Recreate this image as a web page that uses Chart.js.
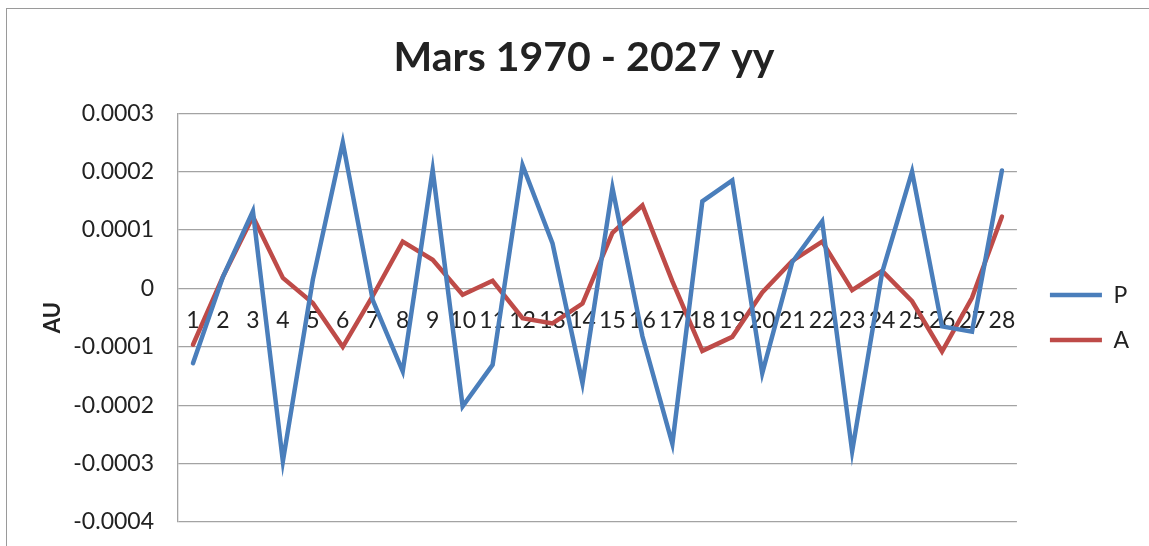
<!DOCTYPE html>
<html>
<head>
<meta charset="utf-8">
<script src="https://cdn.jsdelivr.net/npm/chart.js@4.4.1/dist/chart.umd.min.js"></script>
<style>
    body { margin: 0; background: #fff; overflow: hidden; }
    #wrap { position: relative; width: 1149px; height: 546px; }
    #frame { position: absolute; left: 6px; top: 8px; width: 1200px; height: 600px; border: 1.5px solid #9a9a9a; }
    #chart { position: absolute; left: 0; top: 0; }
</style>
</head>
<body>
<div id="wrap">
    <div id="frame"></div>
    <canvas id="chart" width="1149" height="546"></canvas>
</div>
<script>
// x categories 1..28 (AU)
var categories = ['1', '2', '3', '4', '5', '6', '7', '8', '9', '10', '11', '12', '13', '14',
    '15', '16', '17', '18', '19', '20', '21', '22', '23', '24', '25', '26', '27', '28'];

var seriesP = [-0.000128, 0.00002, 0.000132, -0.000296, 0.000015, 0.000250, -0.00002, -0.000142,
    0.000203, -0.000202, -0.000131, 0.000211, 0.000077, -0.000162, 0.000172, -0.000082,
    -0.000266, 0.000149, 0.000185, -0.000145, 0.000045, 0.000115, -0.000279, 0.000027,
    0.000200, -0.000065, -0.000074, 0.000202];

var seriesA = [-0.0000965, 0.00002, 0.000123, 0.000018, -0.000025, -0.000100, -0.000013, 0.000080,
    0.000049, -0.000011, 0.000013, -0.000051, -0.000060, -0.000026, 0.000095, 0.000142,
    0.000012, -0.000107, -0.000083, -0.000007, 0.000047, 0.000080, -0.000003, 0.000030,
    -0.000022, -0.000108, -0.000016, 0.000123];

var yMin = -0.0004;
var yMax = 0.0003;
var yStep = 0.0001;

var fontFamily = "Lato, 'Open Sans', sans-serif";
var gridColor = '#a3a3a3';
var textColor = '#222222';

function makeLine(label, data, color) {
    return {
        label: label,
        data: data,
        borderColor: color,
        backgroundColor: color,
        borderWidth: 4.5,
        borderCapStyle: 'round',
        pointRadius: 0,
        pointHoverRadius: 0,
        pointStyle: 'line',
        tension: 0,
        fill: false
    };
}

// nudge the legend a bit to the right, away from the plot
var legendNudge = {
    id: 'legendNudge',
    afterLayout: function (chart) {
        chart.legend.left += 11;
        chart.legend.right += 11;
    }
};

var ctx = document.getElementById('chart').getContext('2d');

new Chart(ctx, {
    type: 'line',
    data: {
        labels: categories,
        datasets: [
            makeLine('P', seriesP, '#4a7ebb'),
            makeLine('A', seriesA, '#be4b48')
        ]
    },
    plugins: [legendNudge],
    options: {
        responsive: false,
        animation: false,
        layout: {
            padding: { left: 40, right: 21, top: 0, bottom: 24 }
        },
        plugins: {
            title: {
                display: true,
                text: 'Mars 1970 - 2027 yy',
                color: textColor,
                font: { family: fontFamily, size: 41, weight: 'bold' },
                padding: { top: 33, bottom: 31 }
            },
            legend: {
                position: 'right',
                fullSize: false,
                labels: {
                    usePointStyle: true,
                    pointStyleWidth: 52,
                    padding: 22,
                    color: textColor,
                    font: { family: fontFamily, size: 23 }
                }
            },
            tooltip: { enabled: false }
        },
        scales: {
            x: {
                type: 'category',
                position: { y: 0 },
                offset: true,
                afterFit: function (scale) { scale.height = 0; },
                grid: { display: false, drawTicks: false },
                border: { display: false },
                ticks: {
                    color: textColor,
                    font: { family: fontFamily, size: 23 },
                    padding: 18,
                    maxRotation: 0,
                    autoSkip: false
                }
            },
            y: {
                min: yMin,
                max: yMax,
                afterFit: function (scale) {
                    scale.width = 138;
                    scale.paddingTop = 0;
                    scale.paddingBottom = 0;
                },
                title: {
                    display: true,
                    text: 'AU',
                    color: textColor,
                    font: { family: fontFamily, size: 22, weight: 'bold' },
                    padding: { top: 0, bottom: 10 }
                },
                grid: { color: gridColor, lineWidth: 1.3, drawTicks: false },
                border: { display: true, color: gridColor, width: 1.3 },
                ticks: {
                    stepSize: yStep,
                    padding: 24,
                    color: textColor,
                    font: { family: fontFamily, size: 23 },
                    callback: function (value) {
                        return String(Number(value.toFixed(4)));
                    }
                }
            }
        }
    }
});
</script>
</body>
</html>
